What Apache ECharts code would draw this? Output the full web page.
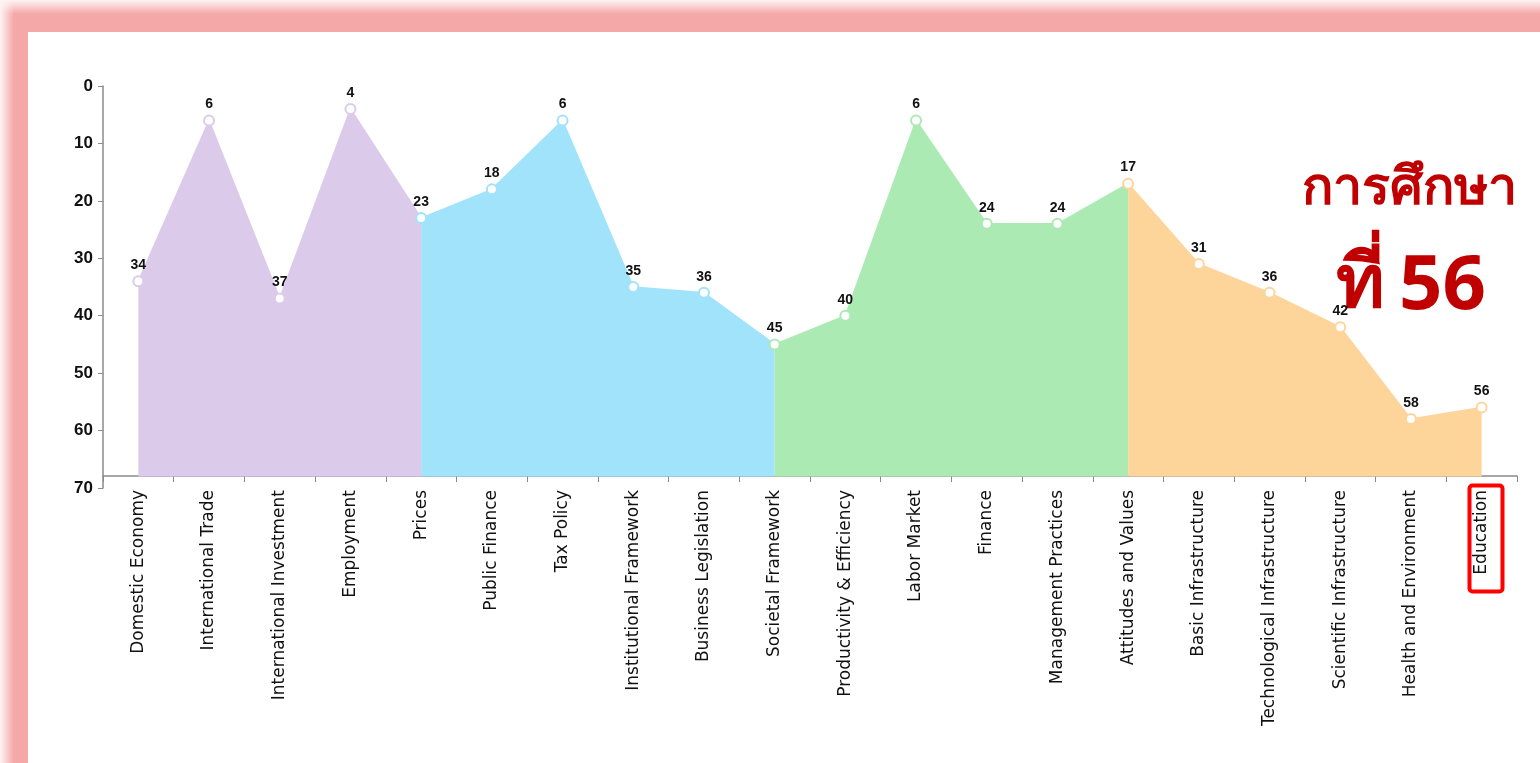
<!DOCTYPE html>
<html lang="th">
<head>
    <meta charset="UTF-8">
    <title></title>
    <style>
        * {
            margin: 0;
            padding: 0;
            box-sizing: border-box;
        }

        html, body {
            width: 1540px;
            height: 763px;
            background: #f5a8a8;
            overflow: hidden;
        }

        .g-fade-top, .g-fade-left {
            position: absolute;
            top: 0;
            left: 0;
        }

        .g-fade-top {
            width: 1540px;
            height: 14px;
            background: linear-gradient(to bottom, #fdf3f3, rgba(245, 168, 168, 0));
        }

        .g-fade-left {
            width: 14px;
            height: 763px;
            background: linear-gradient(to right, #fdf3f3, rgba(245, 168, 168, 0));
        }

        .g-paper {
            position: absolute;
            top: 32px;
            left: 28px;
            width: 1512px;
            height: 731px;
            background: #ffffff;
        }

        #chart {
            position: absolute;
            top: 0;
            left: 0;
            width: 1540px;
            height: 763px;
        }
    </style>
    <script src="https://cdn.jsdelivr.net/npm/echarts@6/dist/echarts.min.js"></script>
</head>
<body>
<div class="g-fade-top"></div>
<div class="g-fade-left"></div>
<div class="g-paper"></div>
<div id="chart"></div>
<script>
    var categories = [
        'Domestic Economy', 'International Trade', 'International Investment', 'Employment', 'Prices',
        'Public Finance', 'Tax Policy', 'Institutional Framework', 'Business Legislation', 'Societal Framework',
        'Productivity & Efficiency', 'Labor Market', 'Finance', 'Management Practices', 'Attitudes and Values',
        'Basic Infrastructure', 'Technological Infrastructure', 'Scientific Infrastructure', 'Health and Environment', 'Education'
    ]
    var ranks = [34, 6, 37, 4, 23, 18, 6, 35, 36, 45, 40, 6, 24, 24, 17, 31, 36, 42, 58, 56]
    // first and last category index of each coloured block
    var groupStart = [0, 4, 9, 14]
    var groupEnd = [4, 9, 14, 19]
    var groupColors = ['#dccaeb', '#a0e3fb', '#aceab4', '#fdd59b']
    var yTicks = [0, 10, 20, 30, 40, 50, 60, 70]

    var series = []
    groupStart.forEach(function (s, g) {
        var e = groupEnd[g]
        var data = ranks.map(function (v, i) {
            if (i < s || i > e) {
                return null
            }
            if (i === e && g < groupStart.length - 1) {
                // shared point is drawn by the next block
                return {value: v, symbol: 'none', label: {show: false}}
            }
            return v
        })
        series.push({
            type: 'line',
            data: data,
            symbol: 'circle',
            symbolSize: 10,
            z: 2 + g,
            itemStyle: {
                color: '#ffffff',
                borderColor: groupColors[g],
                borderWidth: 2
            },
            lineStyle: {
                color: groupColors[g],
                width: 1.5
            },
            areaStyle: {
                color: groupColors[g],
                opacity: 1,
                origin: 68
            },
            label: {
                show: true,
                position: 'top',
                distance: 3,
                color: '#111111',
                fontFamily: 'Liberation Sans',
                fontSize: 14,
                fontWeight: 'bold'
            },
            emphasis: {disabled: true}
        })
    })

    var myChart = echarts.init(document.getElementById('chart'))
    myChart.setOption({
        animation: false,
        grid: {
            left: 103,
            right: 23,
            top: 86,
            bottom: 275
        },
        xAxis: {
            type: 'category',
            data: categories,
            boundaryGap: true,
            position: 'bottom',
            offset: -12,
            axisLine: {
                onZero: false,
                lineStyle: {color: '#8a8a8a', width: 1.5}
            },
            axisTick: {
                show: true,
                length: 6,
                lineStyle: {color: '#8a8a8a'}
            },
            axisLabel: {
                interval: 0,
                rotate: 90,
                margin: 14,
                color: '#111111',
                fontFamily: 'DejaVu Sans',
                fontSize: 17
            },
            splitLine: {show: false}
        },
        yAxis: {
            type: 'value',
            inverse: true,
            min: yTicks[0],
            max: yTicks[yTicks.length - 1],
            interval: 10,
            axisLine: {
                show: true,
                lineStyle: {color: '#8a8a8a', width: 1.5}
            },
            axisTick: {
                show: true,
                length: 5,
                lineStyle: {color: '#8a8a8a'}
            },
            axisLabel: {
                margin: 10,
                color: '#111111',
                fontFamily: 'Liberation Sans',
                fontSize: 17,
                fontWeight: 'bold'
            },
            splitLine: {show: false}
        },
        graphic: [
            {
                type: 'text',
                left: 1302,
                top: 163,
                style: {
                    text: 'การศึกษา',
                    fill: '#c00000',
                    font: 'bold 52px "Noto Sans", "DejaVu Sans", sans-serif'
                }
            },
            {
                type: 'text',
                left: 1336,
                top: 249,
                style: {
                    text: 'ที่',
                    fill: '#c00000',
                    font: 'bold 74px "Noto Sans", "DejaVu Sans", sans-serif'
                }
            },
            {
                type: 'text',
                left: 1399,
                top: 249,
                style: {
                    text: '56',
                    fill: '#c00000',
                    font: 'bold 76px "Noto Sans", "DejaVu Sans", sans-serif'
                }
            },
            {
                type: 'rect',
                left: 1467,
                top: 483,
                shape: {width: 33, height: 106, r: 3},
                style: {
                    fill: 'none',
                    stroke: '#ff0000',
                    lineWidth: 4
                }
            }
        ],
        series: series
    })
</script>
</body>
</html>
